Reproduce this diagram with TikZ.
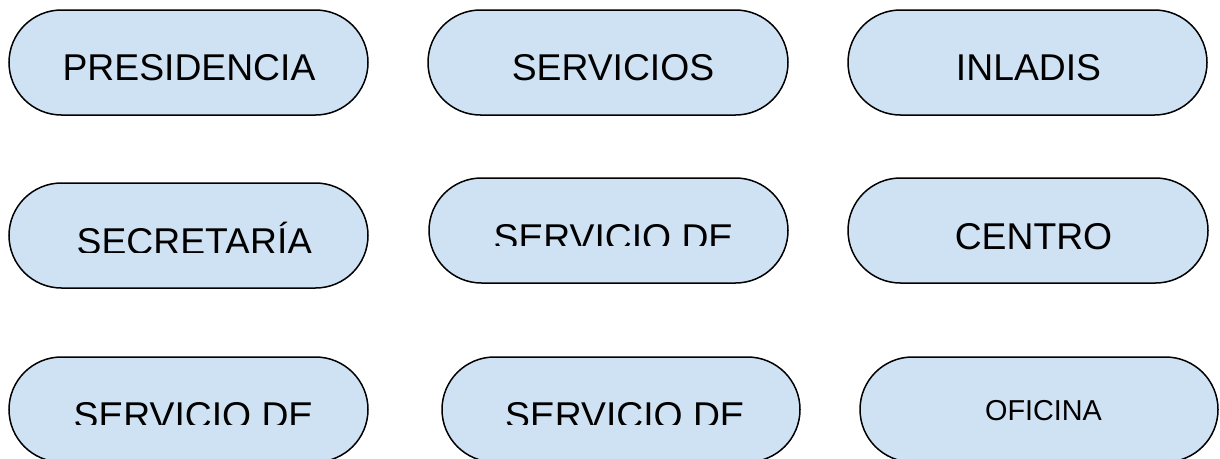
\documentclass[tikz,border=0pt]{standalone}
\usepackage{fontspec}
\setmainfont{Liberation Sans}
\definecolor{boxfill}{HTML}{CFE2F3}
\tikzset{
  pill/.style={draw=black, line width=1.5pt, fill=boxfill, rounded corners=52.5pt},
  bigtxt/.style={anchor=base, inner sep=0pt, font=\fontsize{37.3}{40}\selectfont},
  smalltxt/.style={anchor=base, inner sep=0pt, font=\fontsize{28.8}{32}\selectfont}
}
\begin{document}
\begin{tikzpicture}[x=1pt,y=-1pt]
\useasboundingbox (0,0) rectangle (1220,458);
\clip (0,0) rectangle (1220,458);
% boxes
\path[pill] (9,10) rectangle (368,115) coordinate (b1);
\path[pill] (428,10) rectangle (788,115) coordinate (b2);
\path[pill] (848,10) rectangle (1207,115) coordinate (b3);
\path[pill] (9,183) rectangle (368,288) coordinate (b4);
\path[pill] (429,178) rectangle (788,283) coordinate (b5);
\path[pill] (848,178) rectangle (1208,283) coordinate (b6);
\path[pill] (9,357) rectangle (368,462) coordinate (b7);
\path[pill] (442,357) rectangle (800,462) coordinate (b8);
\path[pill] (860,357) rectangle (1218,462) coordinate (b9);
% texts
\node[bigtxt] (t1) at (189,80.5) {PRESIDENCIA};
\node[bigtxt] (t2) at (613,80.5) {SERVICIOS};
\node[bigtxt] (t3) at (1028.5,80.5) {INLADIS};
\begin{scope}
\clip (0,0) rectangle (1220,252);
\node[bigtxt] (t4) at (194.5,254.5) {SECRETARÍA};
\end{scope}
\begin{scope}
\clip (0,0) rectangle (1220,245.5);
\node[bigtxt] (t5) at (613.5,250) {SERVICIO DE};
\end{scope}
\node[bigtxt] (t6) at (1033.5,249) {CENTRO};
\begin{scope}
\clip (0,0) rectangle (1220,424.5);
\node[bigtxt] (t7) at (193.5,428.5) {SERVICIO DE};
\node[bigtxt] (t8) at (625,428.5) {SERVICIO DE};
\end{scope}
\node[smalltxt] (t9) at (1043.5,420.5) {OFICINA};
\end{tikzpicture}
\end{document}
